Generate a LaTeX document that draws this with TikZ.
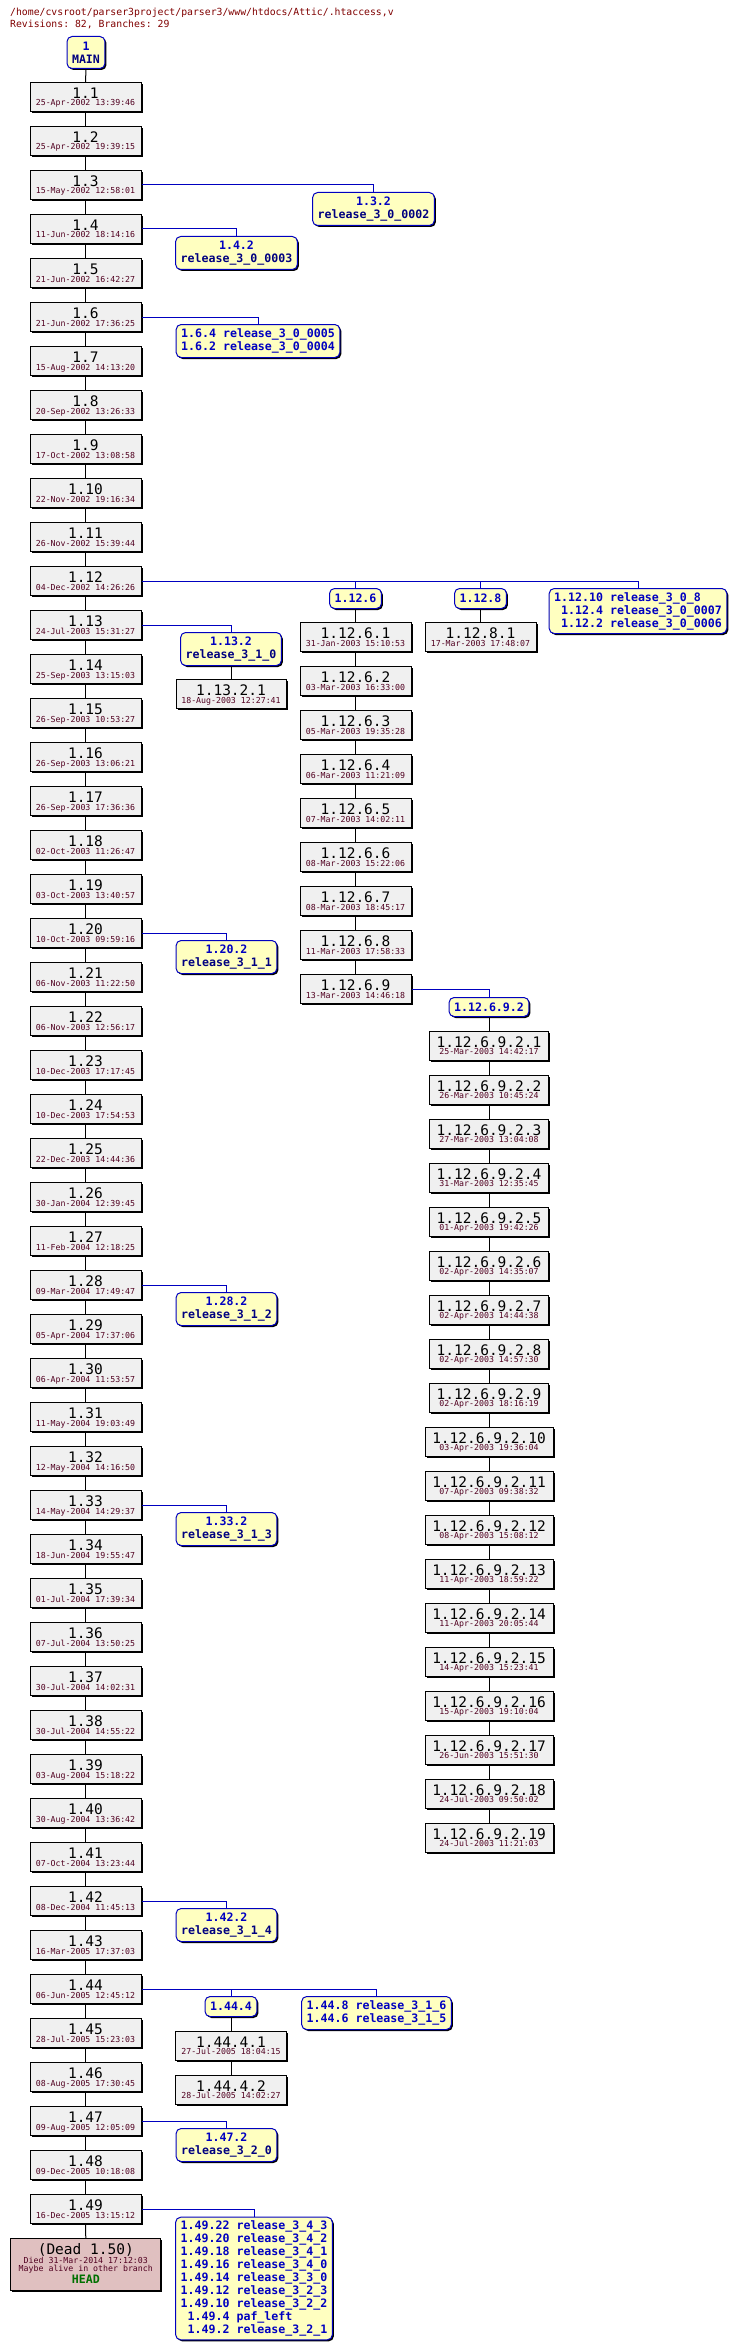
\documentclass[tikz,border=0pt]{standalone}
\usepackage{fontspec}
\setmonofont{DejaVu Sans Mono}
\usetikzlibrary{shadows}

\definecolor{revgray}{HTML}{F0F0F0}
\definecolor{tagyellow}{HTML}{FFFFC0}
\definecolor{branchblue}{HTML}{0000C0}
\definecolor{tagnavy}{HTML}{000080}
\definecolor{datered}{HTML}{500020}
\definecolor{titlered}{HTML}{800000}
\definecolor{headgreen}{HTML}{007000}
\definecolor{deadpink}{HTML}{E0C0C0}

\newcommand{\cvstitlefont}{\ttfamily\fontsize{9.8}{12}\selectfont}
\newcommand{\cvsrevfont}{\ttfamily\fontsize{14.5}{16}\selectfont}
\newcommand{\cvsdatefont}{\ttfamily\fontsize{8.25}{9}\selectfont}
\newcommand{\cvstagfont}{\ttfamily\bfseries\fontsize{11.6}{13}\selectfont}

\tikzset{
  shadowed/.style={drop shadow={shadow xshift=1.5pt, shadow yshift=-1.5pt, opacity=1, fill=black}},
  revbox/.style={draw=black, fill=revgray, line width=1pt, minimum height=29pt, inner sep=0pt,
    anchor=north, shadowed},
  revnum/.style={anchor=base, inner sep=0pt, font=\cvsrevfont},
  revdate/.style={anchor=base, inner sep=0pt, text=datered, font=\cvsdatefont},
  tagbox/.style={draw=branchblue, fill=tagyellow, line width=1pt, rounded corners=5pt, anchor=north,
    inner xsep=5pt, inner ysep=1pt, text=branchblue, font=\cvstagfont, shadowed},
  titletext/.style={anchor=base west, inner sep=0pt, text=titlered, font=\cvstitlefont},
  trunk/.style={draw=black, line width=1pt},
  branch/.style={draw=branchblue, line width=1pt},
}

% revision box: name, x, top, width, number, date
\newcommand{\rev}[6]{%
  \node[revbox, minimum width=#4pt] (#1) at (#2,{#3}) {};
  \node[revnum] (#1-n) at ([yshift=-16.5pt]#1.north) {#5};
  \node[revdate] (#1-d) at ([yshift=-24pt]#1.north) {#6};
}

\begin{document}
\begin{tikzpicture}[x=1pt, y=-1pt]
\useasboundingbox (0,0) rectangle (731,2349);
\clip (0,0) rectangle (731,2349);
\fill[white] (0,0) rectangle (731,2349);

\node[titletext] (title) at (10,16) {/home/cvsroot/parser3project/parser3/www/htdocs/Attic/.htaccess,v};
\node[titletext] (stats) at (10,28) {Revisions: 82, Branches: 29};

\node[tagbox, align=center, minimum height=32pt] (main) at (86,36) {1\\\textcolor{tagnavy}{MAIN}};

% trunk
\foreach \d [count=\i] in {25-Apr-2002 13:39:46, 25-Apr-2002 19:39:15, 15-May-2002 12:58:01,
  11-Jun-2002 18:14:16, 21-Jun-2002 16:42:27, 21-Jun-2002 17:36:25, 15-Aug-2002 14:13:20,
  20-Sep-2002 13:26:33, 17-Oct-2002 13:08:58, 22-Nov-2002 19:16:34, 26-Nov-2002 15:39:44,
  04-Dec-2002 14:26:26, 24-Jul-2003 15:31:27, 25-Sep-2003 13:15:03, 26-Sep-2003 10:53:27,
  26-Sep-2003 13:06:21, 26-Sep-2003 17:36:36, 02-Oct-2003 11:26:47, 03-Oct-2003 13:40:57,
  10-Oct-2003 09:59:16, 06-Nov-2003 11:22:50, 06-Nov-2003 12:56:17, 10-Dec-2003 17:17:45,
  10-Dec-2003 17:54:53, 22-Dec-2003 14:44:36, 30-Jan-2004 12:39:45, 11-Feb-2004 12:18:25,
  09-Mar-2004 17:49:47, 05-Apr-2004 17:37:06, 06-Apr-2004 11:53:57, 11-May-2004 19:03:49,
  12-May-2004 14:16:50, 14-May-2004 14:29:37, 18-Jun-2004 19:55:47, 01-Jul-2004 17:39:34,
  07-Jul-2004 13:50:25, 30-Jul-2004 14:02:31, 30-Jul-2004 14:55:22, 03-Aug-2004 15:18:22,
  30-Aug-2004 13:36:42, 07-Oct-2004 13:23:44, 08-Dec-2004 11:45:13, 16-Mar-2005 17:37:03,
  06-Jun-2005 12:45:12, 28-Jul-2005 15:23:03, 08-Aug-2005 17:30:45, 09-Aug-2005 12:05:09,
  09-Dec-2005 10:18:08, 16-Dec-2005 13:15:12}
  {\rev{r1-\i}{85.5}{82+44*(\i-1)}{111}{1.\i}{\d}}

\node[revbox, fill=deadpink, minimum width=150pt, minimum height=51.7pt] (dead) at (85.8,2238.3) {};
\node[revnum] (dead-n) at ([yshift=-16pt]dead.north) {(Dead 1.50)};
\node[revdate] (dead-d) at ([yshift=-25pt]dead.north) {Died 31-Mar-2014 17:12:03};
\node[revdate] (dead-m) at ([yshift=-33pt]dead.north) {Maybe alive in other branch};
\node[revnum, text=headgreen, font=\cvstagfont] (dead-h) at ([yshift=-45pt]dead.north) {HEAD};

% branch 1.12.6
\foreach \d [count=\i] in {31-Jan-2003 15:10:53, 03-Mar-2003 16:33:00, 05-Mar-2003 19:35:28,
  06-Mar-2003 11:21:09, 07-Mar-2003 14:02:11, 08-Mar-2003 15:22:06, 08-Mar-2003 18:45:17,
  11-Mar-2003 17:58:33, 13-Mar-2003 14:46:18}
  {\rev{r1-12-6-\i}{355.5}{622+44*(\i-1)}{111}{1.12.6.\i}{\d}}

% branch 1.12.6.9.2
\foreach \d [count=\i, evaluate=\i as \w using {\i<10 ? 119 : 128}] in {25-Mar-2003 14:42:17,
  26-Mar-2003 10:45:24, 27-Mar-2003 13:04:08, 31-Mar-2003 12:35:45, 01-Apr-2003 19:42:26,
  02-Apr-2003 14:35:07, 02-Apr-2003 14:44:38, 02-Apr-2003 14:57:30, 02-Apr-2003 18:16:19,
  03-Apr-2003 19:36:04, 07-Apr-2003 09:38:32, 08-Apr-2003 15:08:12, 11-Apr-2003 18:59:22,
  11-Apr-2003 20:05:44, 14-Apr-2003 15:23:41, 15-Apr-2003 19:10:04, 26-Jun-2003 15:51:30,
  24-Jul-2003 09:50:02, 24-Jul-2003 11:21:03}
  {\rev{r1-12-6-9-2-\i}{489}{1030.7+44*(\i-1)}{\w}{1.12.6.9.2.\i}{\d}}

\rev{r1-12-8-1}{480.5}{622}{111}{1.12.8.1}{17-Mar-2003 17:48:07}
\rev{r1-13-2-1}{231}{679}{110}{1.13.2.1}{18-Aug-2003 12:27:41}
\rev{r1-44-4-1}{231}{2030.7}{111}{1.44.4.1}{27-Jul-2005 18:04:15}
\rev{r1-44-4-2}{231}{2074.7}{111}{1.44.4.2}{28-Jul-2005 14:02:27}

% branch tags
\node[tagbox, align=center, minimum height=33pt] (b1-3-2) at (373.5,192) {1.3.2\\\textcolor{tagnavy}{release\_3\_0\_0002}};
\node[tagbox, align=center, minimum height=33pt] (b1-4-2) at (236.5,236) {1.4.2\\\textcolor{tagnavy}{release\_3\_0\_0003}};
\node[tagbox, align=left, minimum height=33pt] (b1-6) at (258,324) {1.6.4 release\_3\_0\_0005\\1.6.2 release\_3\_0\_0004};
\node[tagbox, minimum height=20pt] (b1-12-6) at (355.5,588) {1.12.6};
\node[tagbox, minimum height=20pt] (b1-12-8) at (480.5,588) {1.12.8};
\node[tagbox, align=left, minimum height=45pt] (b1-12-10) at (638,588)
  {1.12.10 release\_3\_0\_8\\\phantom{1}1.12.4 release\_3\_0\_0007\\\phantom{1}1.12.2 release\_3\_0\_0006};
\node[tagbox, align=center, minimum height=33pt] (b1-13-2) at (231,632) {1.13.2\\\textcolor{tagnavy}{release\_3\_1\_0}};
\node[tagbox, minimum height=19pt] (b1-12-6-9-2) at (489,997) {1.12.6.9.2};
\node[tagbox, align=center, minimum height=33pt] (b1-20-2) at (226.5,940) {1.20.2\\\textcolor{tagnavy}{release\_3\_1\_1}};
\node[tagbox, align=center, minimum height=33pt] (b1-28-2) at (226.5,1292) {1.28.2\\\textcolor{tagnavy}{release\_3\_1\_2}};
\node[tagbox, align=center, minimum height=33pt] (b1-33-2) at (226.5,1512) {1.33.2\\\textcolor{tagnavy}{release\_3\_1\_3}};
\node[tagbox, align=center, minimum height=33pt] (b1-42-2) at (226.5,1908) {1.42.2\\\textcolor{tagnavy}{release\_3\_1\_4}};
\node[tagbox, minimum height=20pt] (b1-44-4) at (231,1996) {1.44.4};
\node[tagbox, align=left, minimum height=33pt] (b1-44-8) at (376.5,1996) {1.44.8 release\_3\_1\_6\\1.44.6 release\_3\_1\_5};
\node[tagbox, align=center, minimum height=33pt] (b1-47-2) at (226.5,2128) {1.47.2\\\textcolor{tagnavy}{release\_3\_2\_0}};
\node[tagbox, align=left, minimum height=122.6pt] (b1-49) at (254,2216.7)
  {1.49.22 release\_3\_4\_3\\1.49.20 release\_3\_4\_2\\1.49.18 release\_3\_4\_1\\1.49.16 release\_3\_4\_0\\%
   1.49.14 release\_3\_3\_0\\1.49.12 release\_3\_2\_3\\1.49.10 release\_3\_2\_2\\%
   \phantom{1}1.49.4 paf\_left\\\phantom{1}1.49.2 release\_3\_2\_1};

% connectors
\draw[trunk] (main.south) -- (r1-1.north);
\foreach \i [evaluate=\i as \j using int(\i+1)] in {1,...,48}
  \draw[trunk] (r1-\i.south) -- (r1-\j.north);
\draw[trunk] (r1-49.south) -- (dead.north);
\foreach \i [evaluate=\i as \j using int(\i+1)] in {1,...,8}
  \draw[trunk] (r1-12-6-\i.south) -- (r1-12-6-\j.north);
\foreach \i [evaluate=\i as \j using int(\i+1)] in {1,...,18}
  \draw[trunk] (r1-12-6-9-2-\i.south) -- (r1-12-6-9-2-\j.north);
\draw[trunk] (b1-12-6.south) -- (r1-12-6-1.north);
\draw[trunk] (b1-12-8.south) -- (r1-12-8-1.north);
\draw[trunk] (b1-13-2.south) -- (r1-13-2-1.north);
\draw[trunk] (b1-12-6-9-2.south) -- (r1-12-6-9-2-1.north);
\draw[trunk] (b1-44-4.south) -- (r1-44-4-1.north);
\draw[trunk] (r1-44-4-1.south) -- (r1-44-4-2.north);

\foreach \a/\b in {r1-3/b1-3-2, r1-4/b1-4-2, r1-6/b1-6, r1-12/b1-12-6, r1-12/b1-12-8,
  r1-12/b1-12-10, r1-13/b1-13-2, r1-12-6-9/b1-12-6-9-2, r1-20/b1-20-2, r1-28/b1-28-2,
  r1-33/b1-33-2, r1-42/b1-42-2, r1-44/b1-44-4, r1-44/b1-44-8, r1-47/b1-47-2, r1-49/b1-49}
  \draw[branch] (\a.east) -| (\b.north);
\end{tikzpicture}
\end{document}
